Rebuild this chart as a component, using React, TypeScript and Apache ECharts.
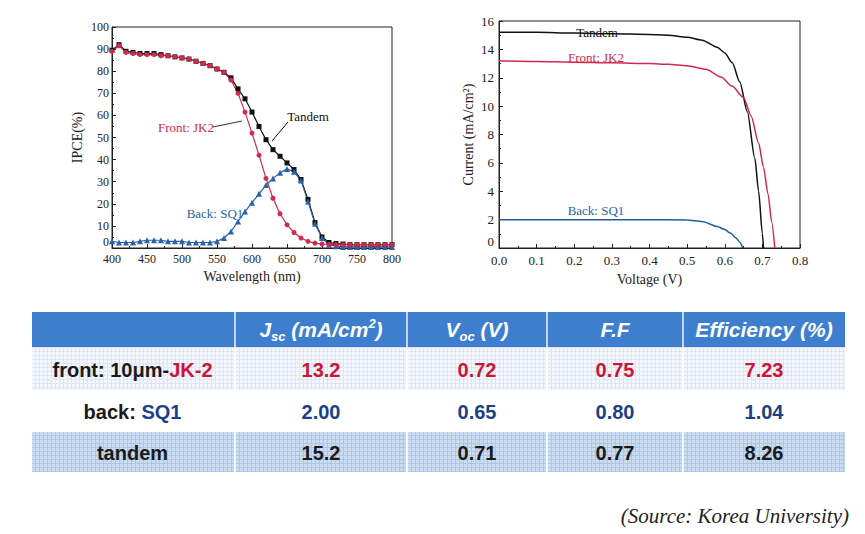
import React, { useEffect, useRef } from "react";
import * as echarts from "echarts";

// ---------- IPCE data (left chart) ----------
const wavelengths = [
  400, 410, 420, 430, 440, 450, 460, 470, 480, 490,
  500, 510, 520, 530, 540, 550, 560, 570, 580, 590,
  600, 610, 620, 630, 640, 650, 660, 670, 680, 690,
  700, 710, 720, 730, 740, 750, 760, 770, 780, 790, 800,
];
const ipceTandem = [
  89.5, 92, 89, 88.5, 88, 88, 88, 87.5, 87, 86.5,
  86, 85.5, 84.5, 83.5, 82.5, 81, 79.5, 77, 72, 67.5,
  61.5, 55, 49, 44.5, 41.5, 38.5, 35.5, 31, 22, 11.5,
  5, 2.5, 2, 1.8, 1.5, 1.5, 1.5, 1.5, 1.5, 1.5, 1.5,
];
const ipceFront = [
  89, 91.5, 88.5, 88, 87.5, 87.5, 87.5, 87, 87, 86.5,
  86, 85.5, 84.5, 83.5, 82.5, 81, 79.5, 76, 70, 61.5,
  52, 42, 31.5, 22.5, 15.5, 10.5, 7, 4.5, 3, 2.2,
  1.8, 1.6, 1.5, 1.5, 1.5, 1.5, 1.5, 1.5, 1.5, 1.5, 1.5,
];
const ipceBack = [
  3, 2.5, 2.5, 2.5, 3, 3.5, 3.5, 3.5, 3, 3,
  3, 2.5, 2.5, 2.5, 2.5, 3, 4.5, 7.5, 12, 16.5,
  20.5, 24.5, 28.5, 31.5, 34, 35.8, 34.5, 30.5, 21, 11,
  4.5, 1.5, 0.8, 0.5, 0.5, 0.5, 0.5, 0.5, 0.5, 0.5, 0.5,
];

// ---------- J-V data (right chart) ----------
const vTandem = [0, 0.1, 0.2, 0.3, 0.4, 0.45, 0.5, 0.54, 0.58, 0.6, 0.62, 0.64, 0.66, 0.68, 0.69, 0.7, 0.703];
const jTandem = [15.2, 15.2, 15.15, 15.1, 15.05, 15.0, 14.85, 14.65, 14.15, 13.75, 13.05, 11.7, 9.6, 6.3, 4.0, 1.0, 0];
const vFront = [0, 0.1, 0.2, 0.3, 0.4, 0.45, 0.5, 0.55, 0.59, 0.62, 0.65, 0.67, 0.69, 0.703, 0.715, 0.725, 0.733];
const jFront = [13.2, 13.15, 13.1, 13.05, 13.0, 12.95, 12.85, 12.6, 12.05, 11.4, 10.6, 9.3, 7.4, 5.7, 3.8, 1.8, 0];
const vBack = [0, 0.1, 0.2, 0.3, 0.4, 0.5, 0.54, 0.58, 0.6, 0.615, 0.63, 0.64, 0.648];
const jBack = [2.0, 2.0, 2.0, 2.0, 2.0, 1.98, 1.87, 1.52, 1.3, 1.05, 0.7, 0.4, 0];

// ---------- Table data ----------
const rowLabelMain = ["front: 10\u03bcm-", "back: ", "tandem"];
const rowLabelAccent = ["JK-2", "SQ1", ""];
const jscValues = ["13.2", "2.00", "15.2"];
const vocValues = ["0.72", "0.65", "0.71"];
const ffValues = ["0.75", "0.80", "0.77"];
const effValues = ["7.23", "1.04", "8.26"];
const sourceText = "(Source: Korea University)";

const F_SERIF = "'Liberation Serif', 'Times New Roman', serif";
const F_SANS = "'Liberation Sans', Arial, sans-serif";
const RED = "#d2294f";
const BLUE = "#2a62a8";
const TXT_RED = "#c8163a";
const TXT_BLUE = "#1c3f86";

function makePattern(bg: string, line: string, size: number) {
  const c = document.createElement("canvas");
  c.width = size;
  c.height = size;
  const ctx = c.getContext("2d")!;
  ctx.fillStyle = bg;
  ctx.fillRect(0, 0, size, size);
  ctx.fillStyle = line;
  ctx.fillRect(size - 1, 0, 1, size);
  ctx.fillRect(0, size - 1, size, 1);
  return c;
}

function axisCommon(fontSize: number, margin: number) {
  return {
    axisLine: { show: true, onZero: false, lineStyle: { color: "#222", width: 1 } },
    axisTick: { show: true, inside: true, length: 4, lineStyle: { color: "#222" } },
    minorTick: { show: true, splitNumber: 2, length: 2, lineStyle: { color: "#222" } },
    splitLine: { show: false },
    minorSplitLine: { show: false },
    axisLabel: { fontFamily: F_SERIF, fontSize, color: "#222", margin },
    nameLocation: "middle" as const,
    nameTextStyle: { fontFamily: F_SERIF, fontSize: 14, color: "#222" },
  };
}

export default function App() {
  const ref = useRef<HTMLDivElement>(null);

  useEffect(() => {
    if (!ref.current) return;
    const chart = echarts.init(ref.current, undefined, { renderer: "svg" });

    const cols = [32, 235, 407, 547, 683, 845];
    const rowTops = [347, 390, 432];
    const rowBottoms = [390, 432, 472];
    const rowCenters = [370, 412, 453];
    const headerTop = 312;
    const headerBottom = 347;

    const pat1 = makePattern("#f3f6fb", "#dde6f2", 4);
    const pat2 = makePattern("#cadcf0", "#acc6e3", 4);

    const graphic: any[] = [];

    // left chart annotations
    graphic.push(
      { type: "text", x: 308, y: 116, z: 10, style: { text: "Tandem", fontFamily: F_SERIF, fontSize: 13, fill: "#111", align: "center", verticalAlign: "middle" } },
      { type: "line", z: 10, shape: { x1: 288, y1: 122, x2: 272, y2: 141 }, style: { stroke: "#111", lineWidth: 1 } },
      { type: "text", x: 186, y: 127, z: 10, style: { text: "Front: JK2", fontFamily: F_SERIF, fontSize: 13, fill: RED, align: "center", verticalAlign: "middle" } },
      { type: "line", z: 10, shape: { x1: 213, y1: 127, x2: 242, y2: 121 }, style: { stroke: "#333", lineWidth: 1 } },
      { type: "text", x: 215, y: 213, z: 10, style: { text: "Back: SQ1", fontFamily: F_SERIF, fontSize: 13, fill: BLUE, align: "center", verticalAlign: "middle" } }
    );

    // right chart annotations
    graphic.push(
      { type: "text", x: 597, y: 32, z: 10, style: { text: "Tandem", fontFamily: F_SERIF, fontSize: 13, fill: "#111", align: "center", verticalAlign: "middle" } },
      { type: "text", x: 596, y: 57, z: 10, style: { text: "Front: JK2", fontFamily: F_SERIF, fontSize: 13, fill: RED, align: "center", verticalAlign: "middle" } },
      { type: "text", x: 596, y: 210, z: 10, style: { text: "Back: SQ1", fontFamily: F_SERIF, fontSize: 13, fill: BLUE, align: "center", verticalAlign: "middle" } }
    );

    // table header
    graphic.push({
      type: "rect",
      shape: { x: cols[0], y: headerTop, width: cols[5] - cols[0], height: headerBottom - headerTop },
      style: { fill: "#3d7fce" },
    });
    // rows
    const rowFills: any[] = [
      { image: pat1, repeat: "repeat", imageWidth: 4, imageHeight: 4 },
      "#ffffff",
      { image: pat2, repeat: "repeat", imageWidth: 4, imageHeight: 4 },
    ];
    for (let r = 0; r < 3; r++) {
      graphic.push({
        type: "rect",
        shape: { x: cols[0], y: rowTops[r], width: cols[5] - cols[0], height: rowBottoms[r] - rowTops[r] },
        style: { fill: rowFills[r] },
      });
    }
    // dividers
    for (let c = 1; c < 5; c++) {
      graphic.push({
        type: "line",
        shape: { x1: cols[c], y1: headerTop, x2: cols[c], y2: headerBottom },
        style: { stroke: "#ffffff", lineWidth: 1.5, opacity: 0.9 },
      });
      for (const r of [0, 2]) {
        graphic.push({
          type: "line",
          shape: { x1: cols[c], y1: rowTops[r], x2: cols[c], y2: rowBottoms[r] },
          style: { stroke: "#ffffff", lineWidth: 2, opacity: 0.85 },
        });
      }
    }

    const mainRich = { fontFamily: F_SANS, fontWeight: "bold", fontStyle: "italic", fill: "#fff", fontSize: 21, lineHeight: 26, verticalAlign: "middle" };
    const subRich = { fontFamily: F_SANS, fontWeight: "bold", fontStyle: "italic", fill: "#fff", fontSize: 13, lineHeight: 26, verticalAlign: "bottom" };
    const supRich = { fontFamily: F_SANS, fontWeight: "bold", fontStyle: "italic", fill: "#fff", fontSize: 13, lineHeight: 26, verticalAlign: "top" };
    const headerTexts = [
      "{m|J}{s|sc}{m| (mA/cm}{p|2}{m|)}",
      "{m|V}{s|oc}{m| (V)}",
      "{m|F.F}",
      "{m|Efficiency (%)}",
    ];
    for (let c = 0; c < 4; c++) {
      graphic.push({
        type: "text",
        x: (cols[c + 1] + cols[c + 2]) / 2,
        y: (headerTop + headerBottom) / 2,
        z: 5,
        style: {
          text: headerTexts[c],
          fill: "#fff",
          align: "center",
          verticalAlign: "middle",
          rich: { m: mainRich, s: subRich, p: supRich },
        },
      });
    }

    // row labels and values
    const accentColors = [TXT_RED, TXT_BLUE, "#1a1a1a"];
    const valueColors = [TXT_RED, TXT_BLUE, "#1a1a1a"];
    const valueCols = [jscValues, vocValues, ffValues, effValues];
    for (let r = 0; r < 3; r++) {
      const label = rowLabelAccent[r]
        ? `{k|${rowLabelMain[r]}}{a|${rowLabelAccent[r]}}`
        : `{k|${rowLabelMain[r]}}`;
      graphic.push({
        type: "text",
        x: (cols[0] + cols[1]) / 2 - 1,
        y: rowCenters[r],
        z: 5,
        style: {
          text: label,
          fill: "#1a1a1a",
          align: "center",
          verticalAlign: "middle",
          rich: {
            k: { fontFamily: F_SANS, fontWeight: "bold", fontSize: 20, fill: "#1a1a1a" },
            a: { fontFamily: F_SANS, fontWeight: "bold", fontSize: 20, fill: accentColors[r] },
          },
        },
      });
      for (let c = 0; c < 4; c++) {
        graphic.push({
          type: "text",
          x: (cols[c + 1] + cols[c + 2]) / 2,
          y: rowCenters[r],
          z: 5,
          style: {
            text: valueCols[c][r],
            fontFamily: F_SANS,
            fontWeight: "bold",
            fontSize: 20,
            fill: valueColors[r],
            align: "center",
            verticalAlign: "middle",
          },
        });
      }
    }

    // source
    graphic.push({
      type: "text",
      x: 849,
      y: 516,
      style: {
        text: sourceText,
        fontFamily: F_SERIF,
        fontStyle: "italic",
        fontSize: 21,
        fill: "#222",
        align: "right",
        verticalAlign: "middle",
      },
    });

    const option: any = {
      animation: false,
      backgroundColor: "#ffffff",
      grid: [
        { left: 112, top: 27, width: 280, height: 221, show: true, borderColor: "#222", borderWidth: 1, backgroundColor: "transparent" },
        { left: 499, top: 21, width: 301, height: 227, show: true, borderColor: "#222", borderWidth: 1, backgroundColor: "transparent" },
      ],
      xAxis: [
        {
          type: "value", gridIndex: 0, min: 400, max: 800, interval: 50,
          name: "Wavelength (nm)", nameGap: 21,
          ...axisCommon(12, 5),
        },
        {
          type: "value", gridIndex: 1, min: 0, max: 0.8, interval: 0.1,
          name: "Voltage (V)", nameGap: 24,
          ...axisCommon(13, 6),
          axisLabel: { fontFamily: F_SERIF, fontSize: 13, color: "#222", margin: 6, formatter: (v: number) => v.toFixed(1) },
        },
      ],
      yAxis: [
        {
          type: "value", gridIndex: 0, min: 0, max: 100, interval: 10,
          name: "IPCE(%)", nameGap: 28,
          ...axisCommon(12, 3),
          axisLabel: { fontFamily: F_SERIF, fontSize: 12, color: "#222", margin: 3, verticalAlignMinLabel: "bottom" },
        },
        {
          type: "value", gridIndex: 1, min: 0, max: 16, interval: 2,
          name: "Current (mA/cm\u00b2)", nameGap: 24,
          ...axisCommon(13, 5),
          axisLabel: { fontFamily: F_SERIF, fontSize: 13, color: "#222", margin: 5, verticalAlignMinLabel: "bottom" },
        },
      ],
      series: [
        {
          type: "line", xAxisIndex: 0, yAxisIndex: 0, name: "Tandem",
          data: wavelengths.map((w, i) => [w, ipceTandem[i]]),
          symbol: "rect", symbolSize: 5, showAllSymbol: true,
          lineStyle: { color: "#111", width: 1.2 }, itemStyle: { color: "#111" },
        },
        {
          type: "line", xAxisIndex: 0, yAxisIndex: 0, name: "Back: SQ1",
          data: wavelengths.map((w, i) => [w, ipceBack[i]]),
          symbol: "triangle", symbolSize: 6, showAllSymbol: true,
          lineStyle: { color: BLUE, width: 1.2 }, itemStyle: { color: BLUE },
        },
        {
          type: "line", xAxisIndex: 0, yAxisIndex: 0, name: "Front: JK2",
          data: wavelengths.map((w, i) => [w, ipceFront[i]]),
          symbol: "circle", symbolSize: 5, showAllSymbol: true,
          lineStyle: { color: RED, width: 1.2 }, itemStyle: { color: RED },
        },
        {
          type: "line", xAxisIndex: 1, yAxisIndex: 1, name: "Tandem JV",
          data: vTandem.map((v, i) => [v, jTandem[i]]),
          showSymbol: false, smooth: 0.25, smoothMonotone: "x",
          lineStyle: { color: "#111", width: 1.5 },
        },
        {
          type: "line", xAxisIndex: 1, yAxisIndex: 1, name: "Front JV",
          data: vFront.map((v, i) => [v, jFront[i]]),
          showSymbol: false, smooth: 0.25, smoothMonotone: "x",
          lineStyle: { color: RED, width: 1.5 },
        },
        {
          type: "line", xAxisIndex: 1, yAxisIndex: 1, name: "Back JV",
          data: vBack.map((v, i) => [v, jBack[i]]),
          showSymbol: false, smooth: 0.25, smoothMonotone: "x",
          lineStyle: { color: "#1f5f9e", width: 1.5 },
        },
      ],
      graphic,
    };

    chart.setOption(option);
    return () => chart.dispose();
  }, []);

  return (
    <div
      ref={ref}
      style={{ position: "fixed", left: 0, top: 0, width: 865, height: 534, background: "#fff" }}
    />
  );
}
